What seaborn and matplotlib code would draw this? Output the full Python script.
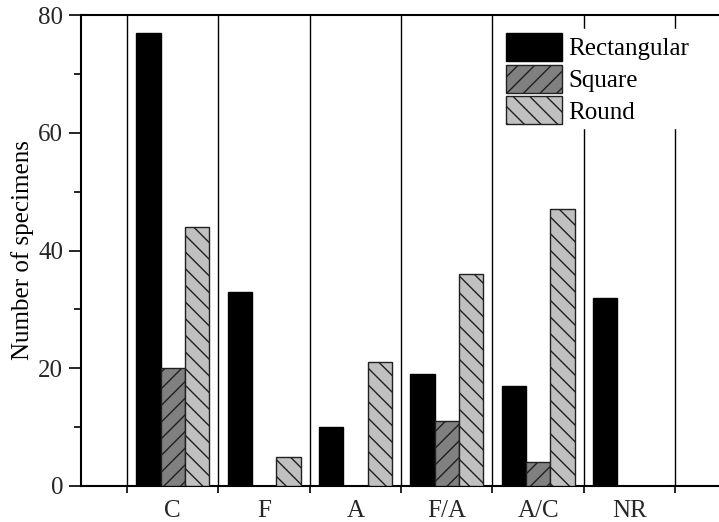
import matplotlib
matplotlib.use("Agg")
import matplotlib.pyplot as plt
import seaborn as sns
import pandas as pd

categories = ["C", "F", "A", "F/A", "A/C", "NR"]
rectangular = [77, 33, 10, 19, 17, 32]
square = [20, 0, 0, 11, 4, 0]
round_ = [44, 5, 21, 36, 47, 0]
series_names = ["Rectangular", "Square", "Round"]
yticks = [0, 20, 40, 60, 80]

rows = []
for name, vals in zip(series_names, [rectangular, square, round_]):
    for c, v in zip(categories, vals):
        rows.append({"category": c, "shape": name, "count": v})
df = pd.DataFrame(rows)

sns.set_theme(style="ticks")
plt.rcParams["font.family"] = ["Liberation Serif", "DejaVu Serif"]
plt.rcParams["hatch.linewidth"] = 1.0
plt.rcParams["hatch.color"] = "black"

FS = 18

fig = plt.figure(figsize=(7.19, 5.22), dpi=100)
ax = fig.add_axes([80.5/719, 36/522, (719-80.5)/719, 471/522])

palette = ["#000000", "#808080", "#c0c0c0"]
sns.barplot(data=df, x="category", y="count", hue="shape", order=categories,
            hue_order=series_names, palette=palette, width=0.8,
            edgecolor="black", linewidth=1.0, saturation=1, ax=ax, zorder=3)

hatches = ["", "//", "\\\\"]
for cont, h in zip(ax.containers, hatches):
    for bar in cont:
        bar.set_hatch(h)
        bar.set_edgecolor("#202020" if h else "black")

ax.set_xlim(-1.01, 5.98)
ax.set_ylim(0, 80)
ax.set_yticks(yticks)
ax.set_yticks([10, 30, 50, 70], minor=True)
ax.set_xticks([i - 0.5 for i in range(len(categories) + 1)])
ax.set_xticklabels([])
ax.set_xticks(range(len(categories)), minor=True)
ax.set_xticklabels(categories, minor=True)
ax.tick_params(axis="x", which="minor", length=0, pad=10, labelsize=FS)
ax.tick_params(axis="x", which="major", length=5, width=1.2, direction="out", color="black")
ax.tick_params(axis="y", which="major", length=9, width=1.2, direction="out",
               labelsize=FS, color="black", pad=3.5)
ax.tick_params(axis="y", which="minor", length=5, width=1.2, direction="out", color="black")
ax.xaxis.grid(True, which="major", color="black", linewidth=1.0)
ax.set_axisbelow(True)

for s in ["left", "bottom", "top"]:
    ax.spines[s].set_color("black")
    ax.spines[s].set_linewidth(1.5)
ax.spines["right"].set_visible(False)

ax.set_xlabel("")
ax.set_ylabel("Number of specimens", fontsize=FS, labelpad=3, color="black")

handles, labels = ax.get_legend_handles_labels()
leg = ax.legend(handles, labels, loc="upper left",
                bbox_to_anchor=((502 - 80.5) / 638.5, (486 - 29) / 471),
                borderaxespad=0, borderpad=0.16, frameon=True, fancybox=False,
                framealpha=1, facecolor="white", edgecolor="white",
                fontsize=FS, handlelength=2.22, handleheight=1.34,
                handletextpad=0.28, labelspacing=0.15, title=None)
for p, h, c in zip(leg.get_patches(), hatches, palette):
    p.set_hatch(h)
    p.set_facecolor(c)
    p.set_edgecolor("#202020" if h else "black")
    p.set_linewidth(1.0)
for t in leg.get_texts():
    t.set_color("black")
leg.set_zorder(5)

fig.savefig("out.png", dpi=100)
